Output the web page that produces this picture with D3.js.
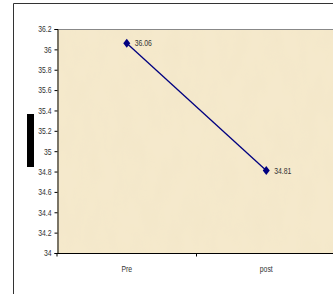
<!DOCTYPE html>
<html>
<head>
<meta charset="utf-8">
<script src="https://cdn.jsdelivr.net/npm/d3@7"></script>
<style>
  body { margin: 0; background: #fff; }
  text { font-family: "Liberation Sans", Arial, sans-serif; fill: #333; }
</style>
</head>
<body>
<div class="canvas"></div>
<script>
const categories = ["Pre", "post"];
const values = [36.06, 34.81];
const yTicks = [34, 34.2, 34.4, 34.6, 34.8, 35, 35.2, 35.4, 35.6, 35.8, 36, 36.2];

const dims = {width: 333, height: 294};
const plot = {left: 57, top: 29, right: 336, bottom: 253};

const svg = d3.select(".canvas").append("svg")
    .attr("width", dims.width)
    .attr("height", dims.height);

// parchment texture
const defs = svg.append("defs");
const filt = defs.append("filter").attr("id", "paper")
    .attr("x", 0).attr("y", 0).attr("width", "100%").attr("height", "100%");
filt.append("feTurbulence")
    .attr("type", "fractalNoise")
    .attr("baseFrequency", "0.06 0.025")
    .attr("numOctaves", 3)
    .attr("seed", 7)
    .attr("result", "noise");
filt.append("feColorMatrix")
    .attr("in", "noise")
    .attr("type", "matrix")
    .attr("values", "0 0 0 0 0.86  0 0 0 0 0.76  0 0 0 0 0.55  0.5 0 0 0 -0.18")
    .attr("result", "tint");
filt.append("feComposite").attr("in", "tint").attr("in2", "SourceGraphic").attr("operator", "in").attr("result", "t2");
filt.append("feMerge").call(m => {
    m.append("feMergeNode").attr("in", "SourceGraphic");
    m.append("feMergeNode").attr("in", "t2");
});

// outer frame
svg.append("path")
    .attr("d", `M13.5,${dims.height} V3.5 H${dims.width}`)
    .attr("fill", "none")
    .attr("stroke", "#333")
    .attr("stroke-width", 1);

// plot area background
svg.append("rect")
    .attr("x", plot.left).attr("y", plot.top)
    .attr("width", plot.right - plot.left)
    .attr("height", plot.bottom - plot.top)
    .attr("fill", "#f5e9cc")
    .attr("filter", "url(#paper)");

svg.append("line")
    .attr("x1", plot.left).attr("x2", dims.width)
    .attr("y1", plot.top + 0.5).attr("y2", plot.top + 0.5)
    .attr("stroke", "#888");

// black block at left (legend remnant)
svg.append("rect")
    .attr("x", 27).attr("y", 114)
    .attr("width", 7).attr("height", 53)
    .attr("fill", "#000");

// scales
const x = d3.scaleBand().domain(categories).range([plot.left, plot.right]);
const y = d3.scaleLinear().domain([34, 36.2]).range([plot.bottom, plot.top]);

// squeeze text to look like a narrow font
const narrow = sel => sel.each(function() {
    const w = this.getComputedTextLength();
    d3.select(this).attr("textLength", w * 0.76).attr("lengthAdjust", "spacingAndGlyphs");
});

// y axis
const yAxis = svg.append("g")
    .attr("transform", `translate(${plot.left + 0.5},0)`)
    .call(d3.axisLeft(y).tickValues(yTicks).tickSize(3).tickPadding(3).tickFormat(d => +d.toFixed(1)));
yAxis.select(".domain").attr("stroke", "#000");
yAxis.selectAll("text").attr("font-size", 9).attr("fill", "#333").call(narrow);

// x axis
const xAxis = svg.append("g")
    .attr("transform", `translate(0,${plot.bottom + 0.5})`)
    .call(d3.axisBottom(x).tickSize(0).tickPadding(12));
xAxis.select(".domain").attr("stroke", "#000").attr("d", `M${plot.left},3V0H${dims.width}`);
xAxis.selectAll("text").attr("font-size", 9).attr("fill", "#333").call(narrow);
xAxis.append("line")
    .attr("x1", x("post")).attr("x2", x("post"))
    .attr("y1", 0).attr("y2", 3)
    .attr("stroke", "#000");

// series
const pts = categories.map((c, i) => ({c, v: values[i]}));
const line = d3.line()
    .x(d => x(d.c) + x.bandwidth() / 2)
    .y(d => y(d.v));

svg.append("path")
    .datum(pts)
    .attr("d", line)
    .attr("fill", "none")
    .attr("stroke", "#000080")
    .attr("stroke-width", 1.3);

svg.selectAll(".marker")
    .data(pts)
    .enter().append("path")
    .attr("class", "marker")
    .attr("transform", d => `translate(${x(d.c) + x.bandwidth() / 2},${y(d.v)})`)
    .attr("d", "M0,-4.5L3.5,0L0,4.5L-3.5,0Z")
    .attr("fill", "#000080");

svg.selectAll(".lbl")
    .data(pts)
    .enter().append("text")
    .attr("class", "lbl")
    .attr("x", d => x(d.c) + x.bandwidth() / 2 + 8)
    .attr("y", d => y(d.v) + 3)
    .attr("font-size", 9)
    .text(d => d.v)
    .call(narrow);
</script>
</body>
</html>
